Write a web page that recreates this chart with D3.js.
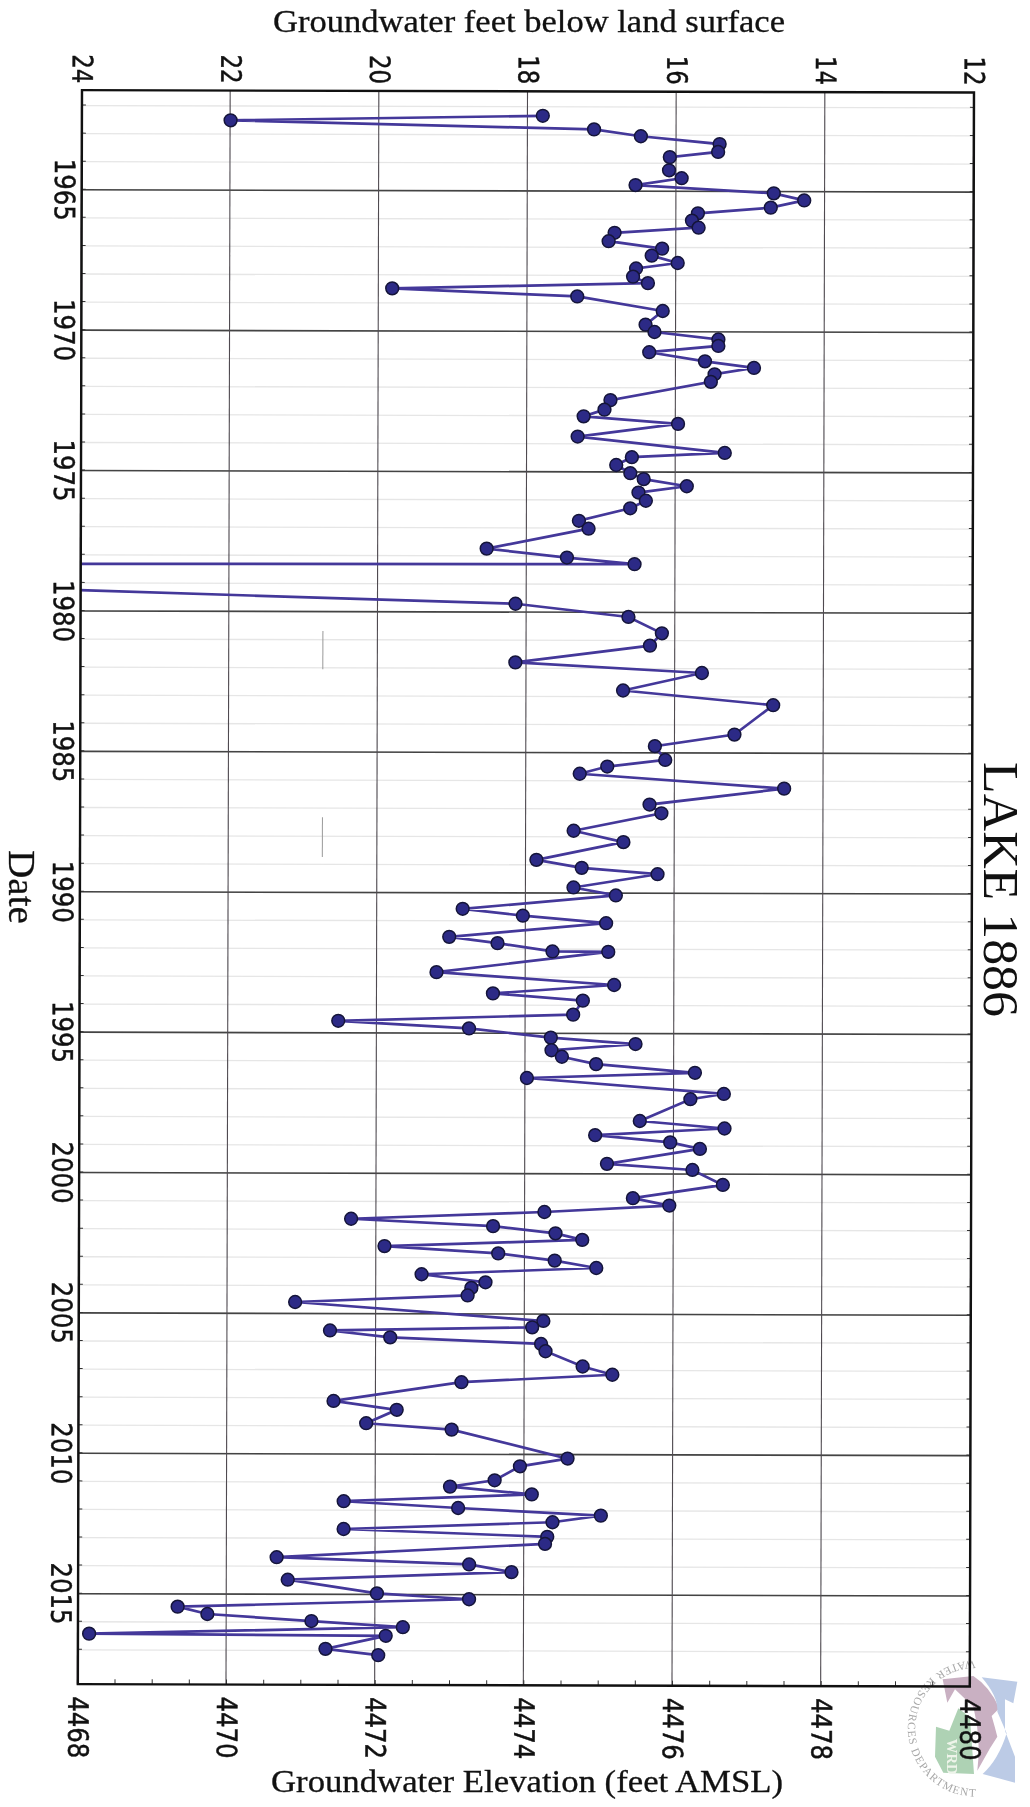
<!DOCTYPE html>
<html>
<head>
<meta charset="utf-8">
<script src="https://cdn.jsdelivr.net/npm/d3@7"></script>
<style>
  html, body { margin: 0; padding: 0; background: #fff; }
  svg { display: block; filter: blur(0.55px); }
</style>
</head>
<body>
<script>
const width = 1030;
const height = 1807;

// decimal year of each reading
const dates = [
  1962.34,1962.53,1962.82,1963.06,1963.33,1963.61,1963.80,1964.27,1964.55,1964.80,
  1965.08,1965.33,1965.59,1965.80,1966.06,1966.31,1966.50,1966.80,1967.06,1967.31,
  1967.57,1967.77,1968.06,1968.29,1968.50,1968.77,1969.28,1969.77,1970.03,1970.29,
  1970.52,1970.75,1971.07,1971.30,1971.53,1971.80,1972.46,1972.80,1973.04,1973.30,
  1973.76,1974.33,1974.49,1974.77,1975.06,1975.27,1975.52,1975.75,1976.04,1976.31,
  1976.76,1977.04,1977.76,1978.07,1978.30,1978.40,1979.72,1980.18,1980.76,1981.20,
  1981.81,1982.17,1982.80,1983.31,1984.36,1984.78,1985.27,1985.51,1985.77,1986.28,
  1986.86,1987.17,1987.80,1988.20,1988.84,1989.12,1989.34,1989.82,1990.10,1990.59,
  1990.83,1991.09,1991.59,1991.81,1992.10,1992.11,1992.85,1993.29,1993.60,1993.85,
  1994.35,1994.59,1994.85,1995.17,1995.39,1995.62,1995.85,1996.11,1996.41,1996.61,
  1997.16,1997.35,1998.13,1998.39,1998.64,1998.89,1999.12,1999.66,1999.87,2000.40,
  2000.88,2001.14,2001.38,2001.64,2001.89,2002.14,2002.37,2002.61,2002.86,2003.11,
  2003.37,2003.61,2003.89,2004.09,2004.36,2004.61,2005.26,2005.49,2005.62,2005.86,
  2006.08,2006.34,2006.88,2007.17,2007.45,2008.13,2008.44,2008.92,2009.14,2010.16,
  2010.44,2010.94,2011.17,2011.44,2011.70,2011.93,2012.19,2012.43,2012.69,2012.95,
  2013.20,2013.70,2013.94,2014.21,2014.50,2014.98,2015.18,2015.47,2015.73,2015.97,
  2016.18,2016.44,2016.49,2016.96,2017.18
];

// groundwater elevation (feet AMSL), one value per date
const elevations = [
  4474.20,4470.00,4474.89,4475.52,4476.58,4476.56,4475.91,4475.90,4476.07,4475.45,
  4477.31,4477.72,4477.27,4476.29,4476.21,4476.30,4475.17,4475.09,4475.81,4475.67,
  4476.02,4475.46,4475.42,4475.62,4472.18,4474.67,4475.82,4475.59,4475.71,4476.57,
  4476.57,4475.64,4476.39,4477.05,4476.52,4476.47,4475.12,4475.04,4474.76,4476.03,
  4474.68,4476.66,4475.41,4475.20,4475.39,4475.57,4476.15,4475.50,4475.60,4475.39,
  4474.70,4474.83,4473.46,4474.54,4475.45,4456.30,4473.85,4475.37,4475.82,4475.66,
  4473.85,4476.36,4475.30,4477.32,4476.80,4475.73,4475.87,4475.09,4474.72,4477.47,
  4475.66,4475.82,4474.64,4475.31,4474.14,4474.75,4475.77,4474.64,4475.21,4473.15,
  4473.96,4475.08,4472.97,4473.62,4474.36,4475.11,4472.80,4475.19,4473.56,4474.77,
  4474.64,4471.48,4473.24,4474.34,4475.48,4474.35,4474.49,4474.95,4476.28,4474.02,
  4476.67,4476.22,4475.54,4476.68,4474.94,4475.95,4476.35,4475.10,4476.25,4476.66,
  4475.45,4475.94,4474.26,4471.66,4473.57,4474.41,4474.77,4472.11,4473.64,4474.40,
  4474.96,4472.61,4473.47,4473.28,4473.23,4470.91,4474.25,4474.10,4471.38,4472.19,
  4474.22,4474.28,4474.78,4475.18,4473.15,4471.43,4472.28,4471.87,4473.02,4474.58,
  4473.94,4473.60,4473.00,4474.10,4471.57,4473.11,4475.03,4474.38,4471.57,4474.31,
  4474.28,4470.67,4473.26,4473.83,4470.82,4472.02,4473.26,4469.34,4469.74,4471.14,
  4472.37,4468.15,4472.14,4471.33,4472.04
];

const majorYears = [1965, 1970, 1975, 1980, 1985, 1990, 1995, 2000, 2005, 2010, 2015];
const minorYears = d3.range(1962, 2018);
const elevTicks = [4468, 4470, 4472, 4474, 4476, 4478, 4480];
const elevMinor = d3.range(4468, 4480.1, 0.5);
const depthTicks = [24, 22, 20, 18, 16, 14, 12];
const stray = [[1980.71, 1982.07], [1987.34, 1988.76]]; // scan marks on the sheet

const svg = d3.select('body').append('svg')
    .attr('width', width)
    .attr('height', height)
    .style('background-color', '#fff');

// WRD seal behind the corner of the plot
const seal = svg.append('g')
    .attr('transform', 'translate(890, 1640) scale(0.3333)');
seal.append('path').attr('fill', '#c9b0c2')
    .attr('d', 'M158,118 L250,108 Q300,140 328,205 L305,228 Q315,262 322,290 L300,325 L262,392 Q275,300 250,200 L195,148 L172,188 Z');
seal.append('path').attr('fill', '#aed2b4')
    .attr('d', 'M205,205 L240,232 L252,402 L160,398 L135,350 L138,260 L178,272 Z');
seal.append('path').attr('fill', '#bccbe6')
    .attr('d', 'M275,112 L382,125 L370,190 L345,178 L345,272 L375,350 L375,428 L278,402 Q325,360 350,280 L322,215 Q325,170 275,112 Z');
seal.append('text').attr('x', 190).attr('y', 330)
    .attr('transform', 'rotate(90 170 330)')
    .attr('text-anchor', 'middle')
    .style('font', 'bold 44px "Liberation Serif"')
    .style('fill', '#eef4ea')
    .text('WRD');
seal.append('path').attr('id', 'ring').attr('fill', 'none')
    .attr('d', 'M255,62 A190,190 0 1 0 260,470');
seal.append('text')
    .style('font', '34px "Liberation Serif"')
    .style('letter-spacing', '3.5px')
    .style('fill', '#a8a8a8')
    .append('textPath')
    .attr('href', '#ring')
    .text('WATER RESOURCES DEPARTMENT');

// plot is built lying on its side like the original sheet, then turned a quarter
const plotW = 1594;
const plotH = 892;

const xScale = d3.scaleLinear().domain([1961.47, 2018.24]).range([0, plotW]);
const yScale = d3.scaleLinear().domain([4468, 4480]).range([plotH, 0]);
const depthScale = d3.scaleLinear().domain([24, 12]).range([plotH, 0]);

const g = svg.append('g')
    .attr('transform', 'translate(974, 92.5) rotate(90.15)');

svg.append('defs').append('clipPath').attr('id', 'plot-clip')
    .append('rect')
    .attr('width', plotW)
    .attr('height', plotH);

// grid
const minorGrid = g.append('g').attr('transform', `translate(0, ${plotH})`)
    .call(d3.axisBottom(xScale).tickValues(minorYears).tickSize(-plotH).tickFormat(''));
minorGrid.select('.domain').remove();
minorGrid.selectAll('line').attr('stroke', '#e6e6e6').attr('stroke-width', 1.3);

const majorGrid = g.append('g').attr('transform', `translate(0, ${plotH})`)
    .call(d3.axisBottom(xScale).tickValues(majorYears).tickSize(-plotH).tickFormat(d3.format('d')).tickPadding(7));
majorGrid.select('.domain').remove();
majorGrid.selectAll('line').attr('stroke', '#444').attr('stroke-width', 1.6);

const elevGrid = g.append('g').attr('transform', `translate(${plotW}, 0)`)
    .call(d3.axisRight(yScale).tickValues(elevTicks).tickSize(-plotW).tickFormat(d3.format('d')).tickPadding(12));
elevGrid.select('.domain').remove();
elevGrid.selectAll('line').attr('stroke', '#4f4a50').attr('stroke-width', 1.1);

const depthAxis = g.append('g')
    .call(d3.axisLeft(depthScale).tickValues(depthTicks).tickSize(0).tickFormat(d3.format('d')).tickPadding(7));
depthAxis.select('.domain').remove();

// small ticks round the frame
[0, plotH].forEach(v => {
  g.append('g').selectAll('line').data(minorYears).enter().append('line')
      .attr('x1', d => xScale(d))
      .attr('x2', d => xScale(d))
      .attr('y1', v)
      .attr('y2', v === 0 ? 4 : plotH - 4)
      .attr('stroke', '#333')
      .attr('stroke-width', 1);
});
g.append('g').selectAll('line').data(elevMinor).enter().append('line')
    .attr('x1', plotW)
    .attr('x2', plotW - 5)
    .attr('y1', d => yScale(d))
    .attr('y2', d => yScale(d))
    .attr('stroke', '#333')
    .attr('stroke-width', 1);

g.append('g').selectAll('line').data(stray).enter().append('line')
    .attr('x1', d => xScale(d[0]))
    .attr('x2', d => xScale(d[1]))
    .attr('y1', yScale(4471.26))
    .attr('y2', yScale(4471.26))
    .attr('stroke', '#999')
    .attr('stroke-width', 1);

// tick labels, squeezed along the text the way the scan is
g.selectAll('.tick text')
    .style('font-family', '"DejaVu Sans"')
    .style('font-size', '28px')
    .attr('fill', '#111')
    .attr('stroke', '#111')
    .attr('stroke-width', 0.5)
    .attr('lengthAdjust', 'spacingAndGlyphs')
    .attr('textLength', d => String(d).length === 2 ? 29 : 62);

// series
const points = dates.map((d, i) => ({ date: d, elevation: elevations[i] }));

const series = g.append('g').attr('clip-path', 'url(#plot-clip)');

const line = d3.line().x(d => xScale(d.date)).y(d => yScale(d.elevation));

series.append('path')
    .datum(points)
    .attr('d', line)
    .attr('fill', 'none')
    .attr('stroke', '#44389a')
    .attr('stroke-width', 2.7);

series.selectAll('circle')
    .data(points)
    .enter()
    .append('circle')
    .attr('cx', d => xScale(d.date))
    .attr('cy', d => yScale(d.elevation))
    .attr('r', 6.4)
    .attr('fill', '#2c2a86')
    .attr('stroke', '#15153a')
    .attr('stroke-width', 1.5);

// frame
g.append('rect')
    .attr('width', plotW)
    .attr('height', plotH)
    .attr('fill', 'none')
    .attr('stroke', '#111')
    .attr('stroke-width', 2.4);

// titles
const serif = '"Liberation Serif"';

svg.append('text')
    .attr('x', 273).attr('y', 32)
    .attr('textLength', 512).attr('lengthAdjust', 'spacingAndGlyphs')
    .style('font-family', serif).style('font-size', '31px').style('fill', '#111')
    .style('stroke', '#111').style('stroke-width', 0.3)
    .text('Groundwater feet below land surface');

svg.append('text')
    .attr('x', 271).attr('y', 1792)
    .attr('textLength', 512).attr('lengthAdjust', 'spacingAndGlyphs')
    .style('font-family', serif).style('font-size', '31px').style('fill', '#111')
    .style('stroke', '#111').style('stroke-width', 0.3)
    .text('Groundwater Elevation (feet AMSL)');

svg.append('text')
    .attr('transform', 'translate(9, 850) rotate(90)')
    .attr('textLength', 74).attr('lengthAdjust', 'spacingAndGlyphs')
    .style('font-family', serif).style('font-size', '38px').style('fill', '#111')
    .style('stroke', '#111').style('stroke-width', 0.3)
    .text('Date');

svg.append('text')
    .attr('transform', 'translate(984, 762) rotate(90)')
    .attr('textLength', 255).attr('lengthAdjust', 'spacingAndGlyphs')
    .style('font-family', serif).style('font-size', '50px').style('fill', '#111')
    .text('LAKE 1886');
</script>
</body>
</html>
